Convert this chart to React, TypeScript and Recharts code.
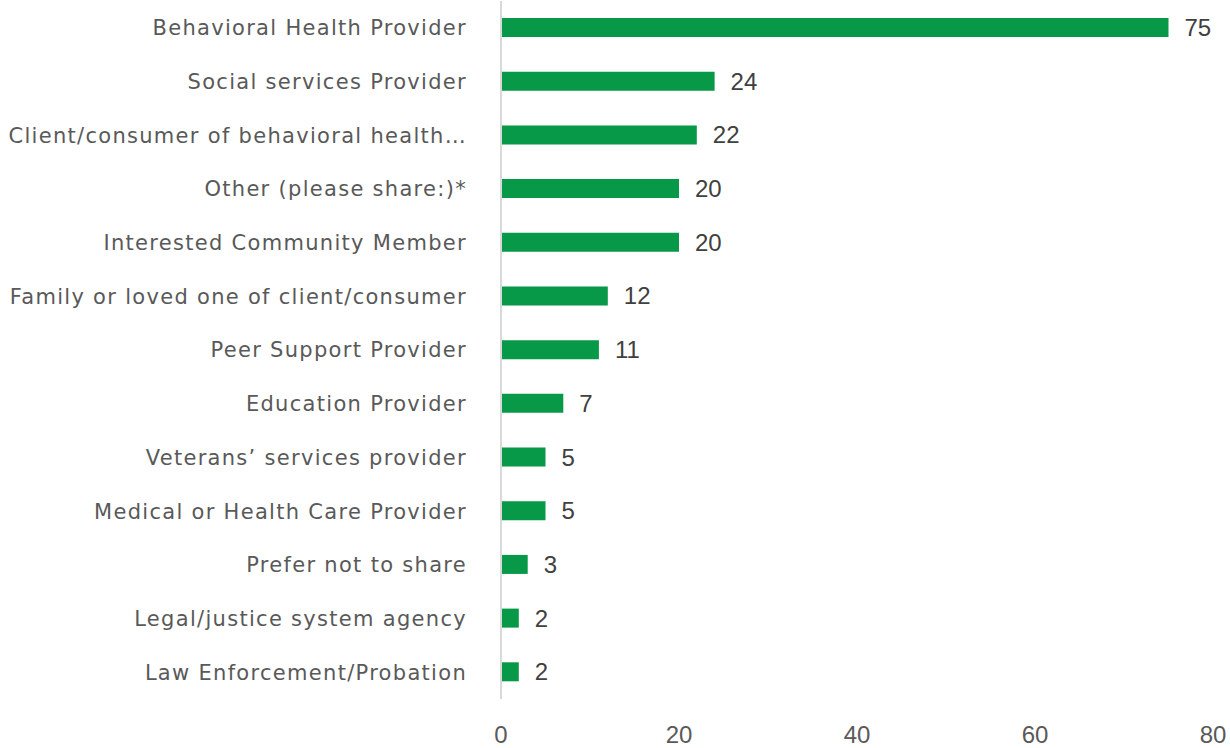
import React from "react";
import { BarChart, Bar, XAxis, YAxis, LabelList } from "recharts";

const categories = [
  "Behavioral Health Provider",
  "Social services Provider",
  "Client/consumer of behavioral health…",
  "Other (please share:)*",
  "Interested Community Member",
  "Family or loved one of client/consumer",
  "Peer Support Provider",
  "Education Provider",
  "Veterans’ services provider",
  "Medical or Health Care Provider",
  "Prefer not to share",
  "Legal/justice system agency",
  "Law Enforcement/Probation",
];

const counts = [75, 24, 22, 20, 20, 12, 11, 7, 5, 5, 3, 2, 2];

const xTicks = [0, 20, 40, 60, 80];

const data = categories.map((name, i) => ({ name, count: counts[i] }));

const LABEL_FONT = "'DejaVu Sans', sans-serif";
const NUM_FONT = "'Liberation Sans', Arial, sans-serif";

export default function App() {
  return (
    <div style={{ position: "absolute", left: 0, top: 0, background: "#fff" }}>
      <BarChart
        width={1230}
        height={748}
        data={data}
        layout="vertical"
        margin={{ top: 1, right: 17, bottom: 0, left: 0 }}
      >
        <XAxis
          type="number"
          domain={[0, 80]}
          ticks={xTicks}
          axisLine={false}
          tickLine={false}
          tickSize={0}
          tickMargin={27}
          height={49}
          tick={{ fill: "#595959", fontSize: 24, fontFamily: NUM_FONT }}
        />
        <YAxis
          type="category"
          dataKey="name"
          width={501}
          axisLine={{ stroke: "#d9d9d9", strokeWidth: 2 }}
          tickLine={false}
          tickSize={0}
          tickMargin={34}
          interval={0}
          tick={{
            fill: "#595959",
            fontSize: 21,
            fontFamily: LABEL_FONT,
            letterSpacing: 1.3,
          }}
        />
        <Bar dataKey="count" fill="#079947" barSize={19} isAnimationActive={false}>
          <LabelList
            dataKey="count"
            position="right"
            offset={16}
            fill="#404040"
            fontSize={24}
            fontFamily={NUM_FONT}
          />
        </Bar>
      </BarChart>
    </div>
  );
}
